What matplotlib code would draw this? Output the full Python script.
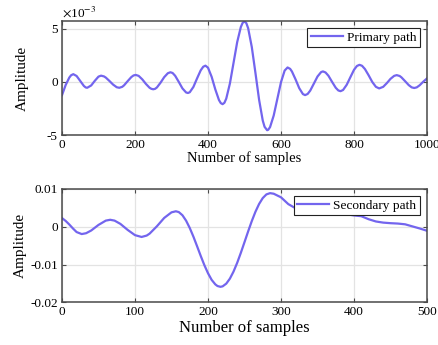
import numpy as np
import matplotlib
matplotlib.use("Agg")
import matplotlib.pyplot as plt

# Primary path impulse response: sample index and amplitude (units of 1e-3)
primary_n = [
    0, 5, 10, 20, 25, 31, 40, 50, 60, 65, 69, 80, 90, 100, 107, 115, 120, 130,
    140, 150, 157, 165, 170, 180, 190, 196, 202, 210, 220, 230, 240, 245, 250,
    255, 260, 270, 280, 290, 297, 303, 310, 320, 330, 340, 345, 350, 360, 370,
    380, 387, 393, 400, 410, 420, 430, 435, 440, 445, 450, 460, 470, 480, 490,
    495, 500, 505, 510, 520, 530, 540, 550, 555, 562, 565, 570, 580, 590, 600,
    610, 618, 625, 630, 640, 650, 660, 666, 673, 680, 690, 700, 710, 715, 722,
    730, 740, 750, 757, 763, 770, 780, 790, 800, 808, 815, 822, 830, 840, 850,
    860, 869, 880, 890, 900, 910, 917, 925, 930, 940, 950, 958, 965, 972, 980,
    990, 1000,
]
primary_amp = [
    -1.25, -0.78, -0.30, 0.40, 0.62, 0.72, 0.55, 0.08, -0.39, -0.53, -0.56, -0.34,
    0.10, 0.49, 0.58, 0.51, 0.40, 0.08, -0.26, -0.51, -0.56, -0.47, -0.33, 0.07,
    0.45, 0.60, 0.65, 0.56, 0.23, -0.20, -0.56, -0.66, -0.70, -0.66, -0.53, -0.08,
    0.44, 0.81, 0.90, 0.83, 0.57, -0.01, -0.62, -1.00, -1.05, -0.98, -0.48, 0.32,
    1.08, 1.42, 1.52, 1.33, 0.47, -0.71, -1.71, -2.00, -2.10, -1.97, -1.58, -0.16,
    1.79, 3.74, 5.16, 5.55, 5.68, 5.52, 5.04, 3.27, 0.83, -1.69, -3.64, -4.23,
    -4.55, -4.51, -4.26, -3.17, -1.60, -0.03, 1.06, 1.35, 1.22, 0.97, 0.22, -0.60,
    -1.15, -1.25, -1.14, -0.83, -0.17, 0.50, 0.92, 0.98, 0.88, 0.57, -0.01, -0.56,
    -0.81, -0.88, -0.77, -0.28, 0.43, 1.13, 1.49, 1.60, 1.51, 1.20, 0.62, -0.01,
    -0.47, -0.62, -0.47, -0.12, 0.28, 0.56, 0.63, 0.55, 0.42, 0.06, -0.31, -0.52,
    -0.58, -0.52, -0.32, 0.02, 0.32,
]

# Secondary path impulse response: sample index and amplitude (units of 1e-3)
secondary_n = [
    0, 5, 10, 15, 20, 27, 33, 40, 50, 60, 66, 72, 80, 90, 100, 109, 116, 120,
    130, 140, 150, 156, 160, 165, 170, 175, 180, 185, 190, 195, 200, 205, 210,
    213, 217, 220, 225, 230, 235, 240, 245, 250, 255, 260, 265, 270, 275, 280,
    285, 290, 300, 310, 320, 330, 340, 350, 360, 370, 380, 390, 400, 410, 420,
    430, 440, 450, 460, 470, 480, 490, 500,
]
secondary_amp = [
    2.30, 1.55, 0.60, -0.45, -1.40, -1.93, -1.71, -0.99, 0.49, 1.63, 1.85, 1.63,
    0.76, -0.84, -2.22, -2.70, -2.33, -1.82, 0.13, 2.34, 3.82, 4.10, 3.89, 3.05,
    1.61, -0.32, -2.61, -5.13, -7.70, -10.15, -12.30, -14.06, -15.25, -15.69,
    -15.90, -15.78, -15.06, -13.73, -11.85, -9.54, -6.89, -4.07, -1.22, 1.51,
    3.98, 6.04, 7.60, 8.57, 8.90, 8.75, 7.80, 6.00, 4.90, 4.40, 4.05, 3.90, 3.80,
    3.70, 3.55, 3.30, 3.00, 2.80, 2.00, 1.40, 1.10, 0.95, 0.85, 0.65, 0.10,
    -0.45, -1.06,
]

primary_xticks = [0, 200, 400, 600, 800, 1000]
primary_yticks = [-5, 0, 5]
secondary_xticks = [0, 100, 200, 300, 400, 500]
secondary_yticks = [-0.02, -0.01, 0, 0.01]
secondary_yticklabels = ["-0.02", "-0.01", "0", "0.01"]

plt.rcParams["font.family"] = ["Liberation Serif", "DejaVu Serif"]
plt.rcParams["axes.unicode_minus"] = False
plt.rcParams["mathtext.fontset"] = "stix"

line_color = "#7365EE"
frame_color = "#4a4a4a"
grid_color = "#E3E3E3"

fig = plt.figure(figsize=(4.39, 3.45), dpi=100)
ax1 = fig.add_axes([62 / 439, 1 - 135 / 345, 365 / 439, 114 / 345])
ax2 = fig.add_axes([62 / 439, 1 - 302.3 / 345, 365 / 439, 113.3 / 345])


def style_axes(ax):
    ax.set_axisbelow(True)
    ax.grid(True, color=grid_color, linewidth=0.9)
    for s in ax.spines.values():
        s.set_color(frame_color)
        s.set_linewidth(1.1)
    ax.tick_params(direction="in", length=3, width=0.8, color=frame_color,
                   top=True, right=True, labelsize=9.5, pad=3)


ax1.plot(primary_n, primary_amp, color=line_color, linewidth=1.6,
         solid_joinstyle="round", label="Primary path")
ax1.set_xlim(0, 1000)
ax1.set_ylim(-5, 5.72)
ax1.set_xticks(primary_xticks)
ax1.set_yticks(primary_yticks)
style_axes(ax1)
ax1.set_xlabel("Number of samples", fontsize=10.5, labelpad=0)
ax1.set_ylabel("Amplitude", fontsize=11, labelpad=13)
ax1.text(0.0, 1.015, r"$\times$10$^{-3}$", transform=ax1.transAxes,
         fontsize=9.5, ha="left", va="bottom")

ax2.plot(secondary_n, np.array(secondary_amp) * 1e-3, color=line_color,
         linewidth=1.6, solid_joinstyle="round", label="Secondary path")
ax2.set_xlim(0, 500)
ax2.set_ylim(-0.02, 0.01)
ax2.set_xticks(secondary_xticks)
ax2.set_yticks(secondary_yticks)
ax2.set_yticklabels(secondary_yticklabels)
style_axes(ax2)
ax2.set_xlabel("Number of samples", fontsize=12, labelpad=1)
ax2.set_ylabel("Amplitude", fontsize=11, labelpad=2)

for ax in (ax1, ax2):
    leg = ax.legend(loc="upper right", fontsize=9.6, frameon=True, fancybox=False,
                    edgecolor="#222222", framealpha=1, borderpad=0.25,
                    borderaxespad=0.55, handlelength=2.4, handletextpad=0.3)
    leg.get_frame().set_linewidth(0.8)

fig.savefig("out.png", dpi=100)
